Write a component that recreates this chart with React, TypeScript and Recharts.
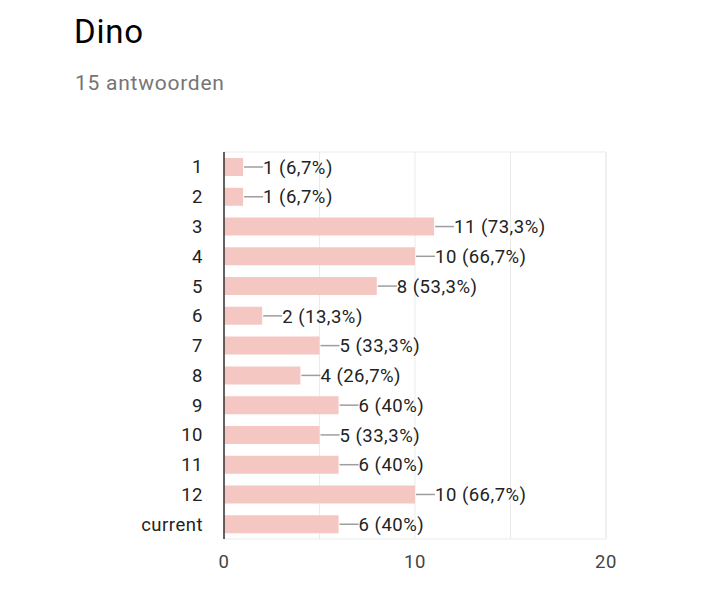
import React from 'react';
import { BarChart, Bar, XAxis, YAxis, CartesianGrid, LabelList, ReferenceArea } from 'recharts';

const categories = ['1', '2', '3', '4', '5', '6', '7', '8', '9', '10', '11', '12', 'current'];
const counts = [1, 1, 11, 10, 8, 2, 5, 4, 6, 5, 6, 10, 6];
const totalResponses = 15;
const xTicks = [0, 5, 10, 15, 20];

const chartData = categories.map((name, i) => ({ name, count: counts[i] }));

const pct = (v: number) => {
  const p = Math.round((v / totalResponses) * 1000) / 10;
  return (p % 1 === 0 ? p.toFixed(0) : p.toFixed(1)).replace('.', ',');
};

const renderValueLabel = (props: any) => {
  const { x, y, width, height, value } = props;
  const x0 = Number(x) + Number(width);
  const cy = Number(y) + Number(height) / 2;
  return (
    <g>
      <line x1={x0 + 1} y1={cy} x2={x0 + 20} y2={cy} stroke="#9e9e9e" strokeWidth={1.5} />
      <text x={x0 + 20} y={cy} dy="0.36em" fill="#222" fontSize={18.5} letterSpacing={0.5} fontFamily="Roboto">
        {`${value} (${pct(value)}%)`}
      </text>
    </g>
  );
};

const App: React.FC = () => {
  return (
    <div style={{ position: 'absolute', left: 0, top: 0, width: 720, height: 595, background: '#fff', fontFamily: 'Roboto' }}>
      <div style={{ position: 'absolute', left: 74, top: 15, fontSize: 33, lineHeight: 1, letterSpacing: 0.75, color: '#000' }}>Dino</div>
      <div style={{ position: 'absolute', left: 75, top: 73, fontSize: 21, lineHeight: 1, letterSpacing: 0.75, color: '#757575' }}>15 antwoorden</div>
      <BarChart
        width={720}
        height={595}
        data={chartData}
        layout="vertical"
        margin={{ top: 152, right: 114, bottom: 16, left: 0 }}
        barSize={18}
      >
        <CartesianGrid horizontal={false} stroke="#ebebeb" />
        <ReferenceArea x1={0} x2={20} stroke="#ebebeb" fill="none" fillOpacity={0} />
        <XAxis
          type="number"
          domain={[0, 20]}
          ticks={xTicks}
          tickFormatter={(v: number) => (v % 10 === 0 ? String(v) : '')}
          axisLine={false}
          tickLine={false}
          tickMargin={10}
          height={40}
          tick={{ fill: '#444', fontSize: 18.5, letterSpacing: 0.5, fontFamily: 'Roboto' }}
        />
        <YAxis
          type="category"
          dataKey="name"
          width={224}
          tickLine={false}
          tickMargin={15}
          axisLine={{ stroke: '#333', strokeWidth: 1.5 }}
          tick={{ fill: '#222', fontSize: 18.5, letterSpacing: 0.5, fontFamily: 'Roboto' }}
        />
        <Bar dataKey="count" fill="#f4c7c3" isAnimationActive={false}>
          <LabelList dataKey="count" content={renderValueLabel} />
        </Bar>
      </BarChart>
    </div>
  );
};

export default App;
